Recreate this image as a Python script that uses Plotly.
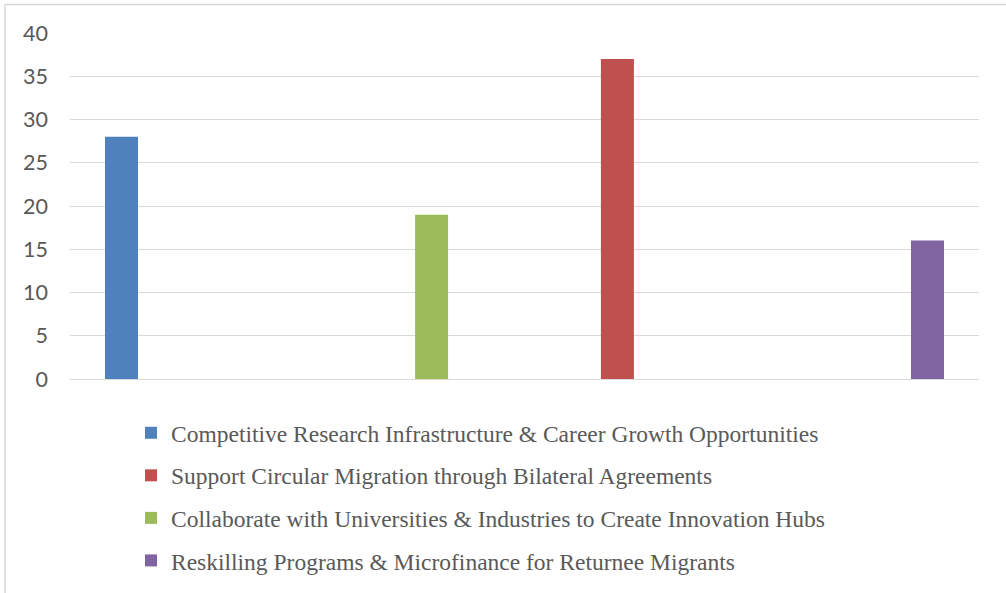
import plotly.graph_objects as go

categories = ["1", "2", "3", "4"]
series_names = [
    "Competitive Research Infrastructure & Career Growth Opportunities",
    "Support Circular Migration through Bilateral Agreements",
    "Collaborate with Universities & Industries to Create Innovation Hubs",
    "Reskilling Programs & Microfinance for Returnee Migrants",
]
series_values = [
    [28, None, None, None],
    [None, None, 37, None],
    [None, 19, None, None],
    [None, None, None, 16],
]
colors = ["#4F81BD", "#C0504D", "#9BBB59", "#8064A2"]
y_ticks = [0, 5, 10, 15, 20, 25, 30, 35, 40]

W, H = 1006, 593
L, R, T, B = 70, 27, 33, 214
pw, ph = W - L - R, H - T - B

fig = go.Figure()
for i, (name, vals) in enumerate(zip(series_names, series_values)):
    fig.add_trace(go.Bar(
        x=categories, y=vals, name=name,
        marker=dict(color=colors[i], line=dict(width=0)),
        legendgroup=f"g{i}",
    ))

def px_x(p):
    return (p - L) / pw

def px_y(p):
    return (H - B - p) / ph

fig.update_layout(
    width=W, height=H,
    margin=dict(l=L, r=R, t=T, b=B, autoexpand=False),
    paper_bgcolor="white", plot_bgcolor="white",
    barmode="group", bargap=0.271, bargroupgap=0.203,
    showlegend=True,
    legend=dict(
        x=px_x(131), y=px_y(411), xanchor="left", yanchor="top",
        orientation="v", traceorder="grouped", tracegroupgap=9,
        font=dict(family="Liberation Serif", size=23.5, color="#595959"),
        bgcolor="rgba(0,0,0,0)",
    ),
    xaxis=dict(showticklabels=False, showgrid=False, zeroline=False,
               showline=True, linecolor="#D9D9D9", linewidth=1, ticks=""),
    yaxis=dict(range=[0, 40], tickvals=y_ticks, showgrid=True,
               gridcolor="#D9D9D9", gridwidth=1, zeroline=False,
               showline=False, ticks="", ticklen=0, ticklabelstandoff=21,
               tickfont=dict(family="Lato", size=21.5, color="#595959")),
    shapes=[
        dict(type="line", xref="paper", yref="paper",
             x0=px_x(5), x1=px_x(1010), y0=px_y(4.5), y1=px_y(4.5),
             line=dict(color="#D9D9D9", width=1.5)),
        dict(type="line", xref="paper", yref="paper",
             x0=px_x(5), x1=px_x(5), y0=px_y(4.5), y1=px_y(600),
             line=dict(color="#D9D9D9", width=1.5)),
    ],
)

fig.write_html("out.html", config={"displayModeBar": False},
               post_script="document.body.style.margin='0';")
